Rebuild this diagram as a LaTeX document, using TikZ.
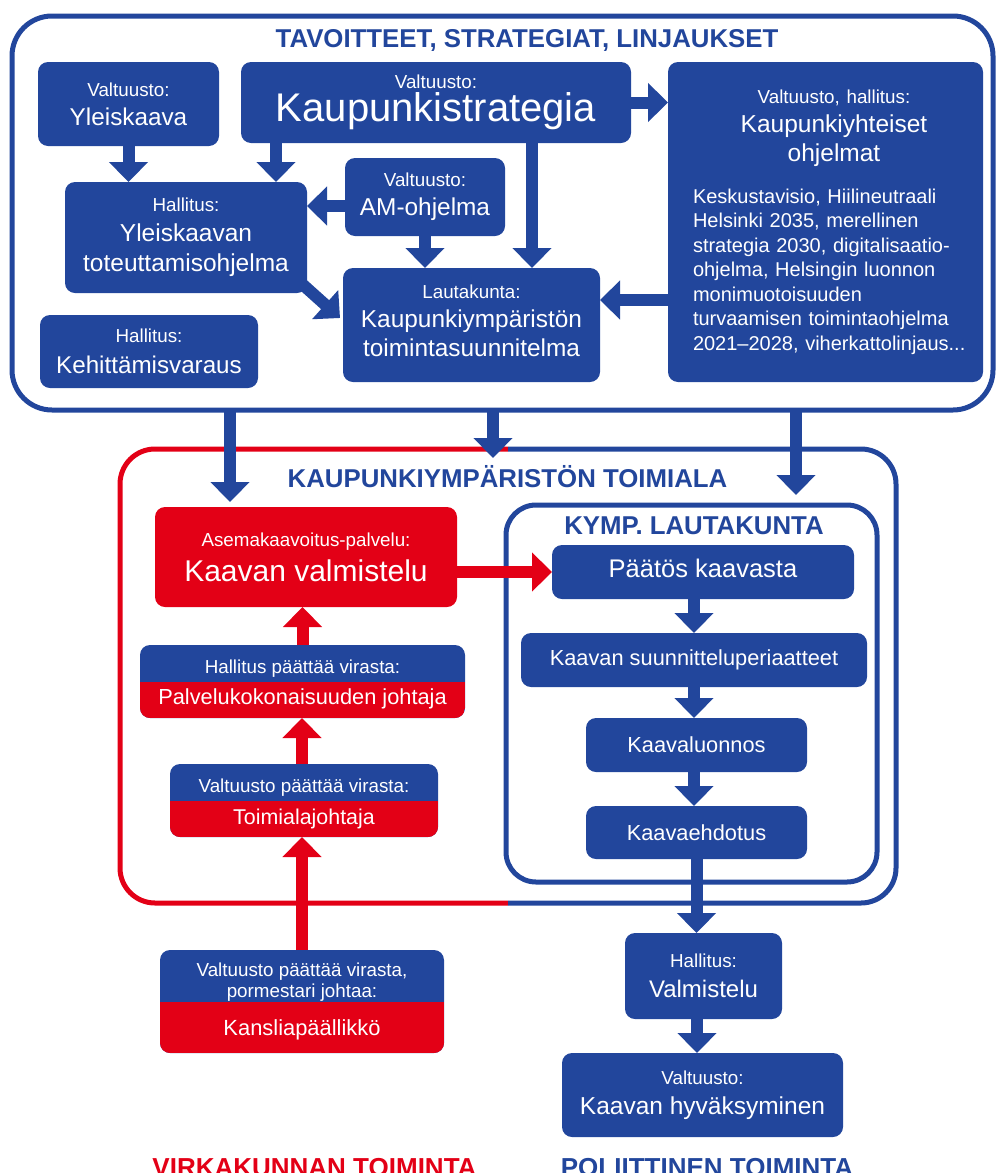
\documentclass[tikz,border=0pt]{standalone}
\usepackage{fontspec}
\setmainfont{Liberation Sans}
\usetikzlibrary{arrows.meta}
\definecolor{hblue}{RGB}{34,70,156}
\definecolor{hred}{RGB}{227,0,22}
\newcommand{\boxhead}[1]{{\fontsize{18.8}{22}\selectfont #1}}
\begin{document}
\begin{tikzpicture}[x=1pt,y=-1pt,
		box/.style={fill=hblue,text=white,rounded corners=10,inner sep=0,outer sep=0,align=center},
		redbox/.style={box,fill=hred},
		duo/.style={box,path picture={\fill[hred,sharp corners] (path picture bounding box.west) rectangle (path picture bounding box.south east);}},
		outline/.style={draw=hblue,line width=5,inner sep=0,outer sep=0},
		headline/.style={font=\fontsize{25.8}{30}\selectfont\bfseries,text=hblue,inner sep=0},
		fat/.style={draw=hblue,line width=12,-{Triangle[width=38pt,length=20pt]}},
		redfat/.style={fat,draw=hred}]
			\useasboundingbox (0,0) rectangle (996,1173);
			\node[outline,rounded corners=40,minimum width=981,minimum height=394] (tbox) at (502.5,213) {};
			\node[headline] (ttop) at (527,40) {TAVOITTEET, STRATEGIAT, LINJAUKSET};
			\node[box,minimum width=181,minimum height=84,font=\fontsize{24.3}{29}\selectfont] (yk) at (128.5,104) {\boxhead{Valtuusto:}\\Yleiskaava};
			\node[box,minimum width=390,minimum height=81,font=\fontsize{40}{32.5}\selectfont] (ks) at (436,102.5) {\boxhead{Valtuusto:}\\Kaupunkistrategia};
			\node[box,minimum width=242,minimum height=111,font=\fontsize{24.5}{30}\selectfont] (hy) at (186,237.5) {\boxhead{Hallitus:}\\Yleiskaavan\\toteuttamisohjelma};
			\node[box,minimum width=160,minimum height=78,font=\fontsize{24.4}{29}\selectfont] (am) at (425,197) {\boxhead{Valtuusto:}\\AM-ohjelma};
			\node[box,minimum width=257,minimum height=114,font=\fontsize{24.4}{29}\selectfont] (lk) at (471.5,325) {\boxhead{Lautakunta:}\\Kaupunkiympäristön\\toimintasuunnitelma\rule[-8pt]{0pt}{0pt}};
			\node[box,minimum width=218,minimum height=73,font=\fontsize{24.2}{31}\selectfont] (kv) at (149,351.5) {\boxhead{Hallitus:}\\Kehittämisvaraus};
			\node[box,minimum width=315,minimum height=320,text width=299,align=left,font=\fontsize{20}{24.5}\selectfont] (ky) at (825.5,222) {%
				\parindent=0pt\leftskip=17pt plus 1fil\rightskip=0pt plus 1fil\parfillskip=0pt
				{\fontsize{18.8}{29}\selectfont Valtuusto, hallitus:\par}
				{\fontsize{24.5}{29}\selectfont Kaupunkiyhteiset\par ohjelmat\par}
				\vspace{17.5pt}
				\leftskip=17pt\rightskip=0pt plus 1fil\parfillskip=0pt plus 1fil
				Keskustavisio, Hiilineutraali\par
				Helsinki 2035, merellinen\par
				strategia 2030, digitalisaatio-\par
				ohjelma, Helsingin luonnon\par
				monimuotoisuuden\par
				turvaamisen toimintaohjelma\par
				2021–2028, viherkattolinjaus...\par};
			\node[inner sep=0,outer sep=0,minimum width=776,minimum height=454] (toim) at (508,676) {};
			\draw[hred,line width=5,rounded corners=35] (toim.north) -- (toim.north west) -- (toim.south west) -- (toim.south);
			\draw[hblue,line width=5,rounded corners=35] (toim.north) -- (toim.north east) -- (toim.south east) -- (toim.south);
			\node[headline] (ttoim) at (507.5,477) {KAUPUNKIYMPÄRISTÖN TOIMIALA};
			\node[outline,rounded corners=30,minimum width=371,minimum height=377] (kymp) at (691.5,693.5) {};
			\node[headline] (tkymp) at (694,526) {KYMP. LAUTAKUNTA};
			\node[redbox,minimum width=302,minimum height=100,font=\fontsize{30}{35}\selectfont] (kval) at (306,557) {\boxhead{Asemakaavoitus-palvelu:}\\Kaavan valmistelu};
			\node[box,minimum width=302,minimum height=54,font=\fontsize{25.5}{30}\selectfont] (pk) at (703,572) {Päätös kaavasta\rule[-7pt]{0pt}{0pt}};
			\node[box,minimum width=346,minimum height=54,font=\fontsize{21.8}{26}\selectfont] (ksp) at (694,660) {Kaavan suunnitteluperiaatteet};
			\node[box,minimum width=221,minimum height=54,font=\fontsize{21.8}{26}\selectfont] (klu) at (696.5,745) {Kaavaluonnos};
			\node[box,minimum width=221,minimum height=53,font=\fontsize{21.8}{26}\selectfont] (keh) at (696.5,832.5) {Kaavaehdotus};
			\node[duo,minimum width=325,minimum height=73,font=\fontsize{21.8}{31}\selectfont] (pj) at (302.5,681.5) {\rule{0pt}{20pt}\boxhead{Hallitus päättää virasta:}\\Palvelukokonaisuuden johtaja};
			\node[duo,minimum width=268,minimum height=73,font=\fontsize{21.4}{32}\selectfont] (tj) at (304,800.5) {\rule{0pt}{20pt}\boxhead{Valtuusto päättää virasta:}\\Toimialajohtaja};
			\node[duo,minimum width=284,minimum height=103,font=\fontsize{21.9}{21}\selectfont] (kp) at (302,1001.5) {\boxhead{Valtuusto päättää virasta,}\\\boxhead{pormestari johtaa:}\\[17pt]Kansliapäällikkö};
			\node[box,minimum width=157,minimum height=86,font=\fontsize{24}{30.5}\selectfont] (hv) at (703.5,976) {\boxhead{Hallitus:}\\Valmistelu};
			\node[box,minimum width=281,minimum height=84,font=\fontsize{24.5}{30}\selectfont] (vh) at (702.5,1095) {\boxhead{Valtuusto:}\\Kaavan hyväksyminen};
			\node[headline,text=hred,font=\fontsize{26}{30}\selectfont\bfseries,anchor=base] (virka) at (314.5,1176.5) {VIRKAKUNNAN TOIMINTA};
			\node[headline,font=\fontsize{26}{30}\selectfont\bfseries,anchor=base] (polit) at (707,1176.5) {POLIITTINEN TOIMINTA};
			\draw[fat] (yk.south) -- (yk.south |- hy.north);
			\draw[fat] ([xshift=35]ks.south west) -- ([xshift=35]ks.south west |- hy.north);
			\draw[fat] ([yshift=-9]am.west) -- ([yshift=-9]am.west -| hy.east);
			\draw[fat] (am.south) -- (am.south |- lk.north);
			\draw[fat] ([xshift=96]ks.south) -- ([xshift=96]ks.south |- lk.north);
			\draw[fat] ([xshift=-6,yshift=10]hy.south east) -- ([xshift=-3,yshift=7]lk.west);
			\draw[fat] ([yshift=-78]ky.west) -- ([yshift=-78]ky.west -| lk.east);
			\draw[fat] (ks.east) -- (ks.east -| ky.west);
			\draw[fat] ([xshift=-76]kval.north |- tbox.south) -- ([xshift=-76,yshift=5]kval.north);
			\draw[fat] ([xshift=-15]toim.north |- tbox.south) -- ([xshift=-15,yshift=-9]toim.north);
			\draw[fat] ([xshift=104.5]kymp.north |- tbox.south) -- ([xshift=104.5,yshift=10]kymp.north);
			\draw[redfat] (kval.east |- pk.west) -- (pk.west);
			\draw[fat] ([xshift=-9]pk.south) -- ([xshift=-9]pk.south |- ksp.north);
			\draw[fat] (ksp.south) -- (ksp.south |- klu.north);
			\draw[fat] ([xshift=-2.5]klu.south) -- ([xshift=-2.5]klu.south |- keh.north);
			\draw[fat] (keh.south) -- (keh.south |- hv.north);
			\draw[fat] ([xshift=-6.5]hv.south) -- ([xshift=-6.5]hv.south |- vh.north);
			\draw[redfat] (pj.north) -- (pj.north |- kval.south);
			\draw[redfat] ([xshift=-2]tj.north) -- ([xshift=-2]tj.north |- pj.south);
			\draw[redfat] (kp.north) -- (kp.north |- tj.south);
\end{tikzpicture}
\end{document}
